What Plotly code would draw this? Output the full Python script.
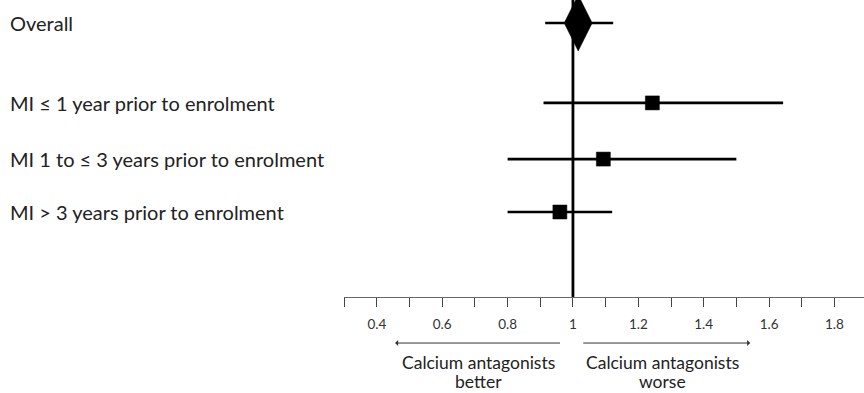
import plotly.graph_objects as go

# ---- data ----
labels = ["Overall",
          "MI \u2264 1 year prior to enrolment",
          "MI 1 to \u2264 3 years prior to enrolment",
          "MI > 3 years prior to enrolment"]
row_pos = [0, 1.48, 2.52, 3.5]
estimate = [1.016, 1.243, 1.093, 0.96]
ci_low = [0.915, 0.91, 0.80, 0.80]
ci_high = [1.123, 1.643, 1.50, 1.12]
tick_vals = [0.4, 0.6, 0.8, 1.0, 1.2, 1.4, 1.6, 1.8]
tick_text = ["0.4", "0.6", "0.8", "1", "1.2", "1.4", "1.6", "1.8"]

FONT = "Lato, 'Open Sans', sans-serif"
TXT = "#222222"

fig = go.Figure()

fig.add_trace(go.Scatter(
    x=estimate, y=row_pos, mode="markers",
    marker=dict(symbol=["diamond-tall", "square", "square", "square"],
                size=[40, 14, 14, 14], color="#000000", opacity=1,
                line=dict(width=0.5, color="#000000")),
    error_x=dict(type="data", symmetric=False,
                 array=[h - e for h, e in zip(ci_high, estimate)],
                 arrayminus=[e - l for e, l in zip(estimate, ci_low)],
                 color="#000000", thickness=2.6, width=0),
    showlegend=False, hoverinfo="skip"))

# null line at 1
fig.add_shape(type="line", xref="x", yref="paper", x0=1, x1=1, y0=0, y1=1,
              line=dict(color="black", width=2.8), layer="below")

# row labels
for lab, y in zip(labels, row_pos):
    fig.add_annotation(text=lab, xref="paper", yref="y", x=-0.6462, y=y,
                       xanchor="left", yanchor="middle", showarrow=False,
                       font=dict(family=FONT, size=20, color=TXT))

# direction arrows
fig.add_annotation(x=0.456, y=-0.155, xref="x", yref="paper",
                   ax=0.965, ay=0, axref="x", ayref="pixel", text="",
                   showarrow=True, arrowhead=1, arrowsize=1, arrowwidth=1,
                   arrowcolor="#333333")
fig.add_annotation(x=1.542, y=-0.155, xref="x", yref="paper",
                   ax=1.027, ay=0, axref="x", ayref="pixel", text="",
                   showarrow=True, arrowhead=1, arrowsize=1, arrowwidth=1,
                   arrowcolor="#333333")
for xc, l1, l2 in [(0.71, "Calcium antagonists", "better"),
                   (1.274, "Calcium antagonists", "worse")]:
    fig.add_annotation(text=l1, x=xc, y=-0.219, xref="x", yref="paper",
                       showarrow=False, xanchor="center", yanchor="middle",
                       font=dict(family=FONT, size=17.5, color=TXT))
    fig.add_annotation(text=l2, x=xc, y=-0.283, xref="x", yref="paper",
                       showarrow=False, xanchor="center", yanchor="middle",
                       font=dict(family=FONT, size=17.5, color=TXT))

fig.update_xaxes(range=[0.2995, 1.8905], showgrid=False, zeroline=False,
                 showline=True, linecolor="#666666", linewidth=1,
                 tickvals=tick_vals, ticktext=tick_text,
                 ticks="outside", ticklen=9, tickcolor="#444444", tickwidth=1,
                 ticklabelstandoff=6,
                 minor=dict(dtick=0.1, tick0=0.3, ticks="outside", ticklen=9,
                            tickcolor="#444444", tickwidth=1, showgrid=False),
                 tickfont=dict(family=FONT, size=13.5, color="#333333"))
fig.update_yaxes(range=[5.074, -0.426], visible=False, showgrid=False,
                 zeroline=False)

fig.update_layout(width=864, height=393,
                  margin=dict(l=344, r=0, t=0, b=96),
                  plot_bgcolor="white", paper_bgcolor="white")

fig.write_html("out.html", config={"displayModeBar": False},
               post_script="document.body.style.margin='0';"
                           "document.body.style.overflow='hidden';")
